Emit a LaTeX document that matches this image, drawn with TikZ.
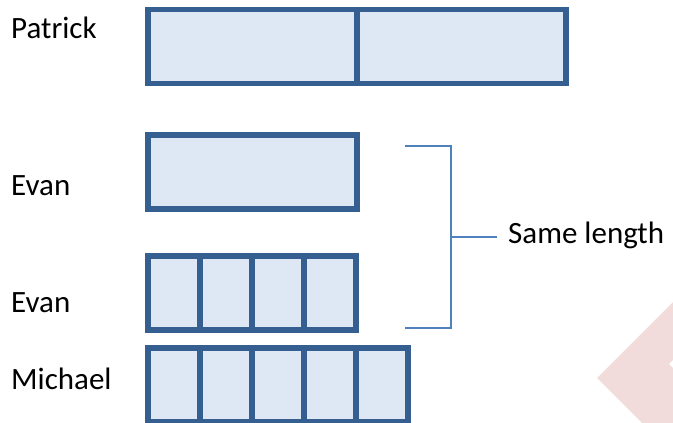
\documentclass[tikz,border=0pt]{standalone}
\usepackage{fontspec}
\setmainfont{Carlito}
\usetikzlibrary{positioning}
\definecolor{barLine}{HTML}{365F91}
\definecolor{barFill}{HTML}{DEE8F4}
\definecolor{braceLine}{HTML}{4F81BD}
\definecolor{markPink}{HTML}{F2DCDB}

\begin{document}
\begin{tikzpicture}[x=1pt,y=-1pt]
    \tikzstyle{Cell} = [
            draw=barLine,
            fill=barFill,
            line width=5.5pt,
            rectangle,
            inner sep=0pt,
            outer sep=0pt,
            minimum height=74pt,
            minimum width=52pt
    ];
    \tikzstyle{HalfCell} = [
            Cell,
            minimum width=209pt
    ];
    \tikzstyle{Name} = [
            anchor=base west,
            inner sep=0pt,
            font={\fontsize{31}{37}\selectfont}
    ];
    \tikzstyle{Brace} = [
            draw=braceLine,
            line width=2pt
    ];

    \useasboundingbox (0,0) rectangle (673,423);

    % corner mark
    \fill[markPink] (597,378) -- (673,302) -- (673,423) -- (642,423) -- cycle;
    \fill[white] (669,364) -- (673,360) -- (673,368) -- cycle;

    % names
    \node[Name, name=Patrick] at (11,38)  {Patrick};
    \node[Name, name=EvanA]   at (11,195) {Evan};
    \node[Name, name=EvanB]   at (11,312) {Evan};
    \node[Name, name=Michael] at (11,389) {Michael};

    % Patrick: two halves
    \node[HalfCell, name=P1] at (252.5,46.5) {};
    \node[HalfCell, name=P2, right=0pt of P1] {};

    % Evan: one half
    \node[HalfCell, name=E0] at (252.5,172) {};

    % Evan: four quarters
    \node[Cell, name=E1] at (174,293) {};
    \node[Cell, name=E2, right=0pt of E1] {};
    \node[Cell, name=E3, right=0pt of E2] {};
    \node[Cell, name=E4, right=0pt of E3] {};

    % Michael: five quarters
    \node[Cell, name=M1] at (174,385) {};
    \node[Cell, name=M2, right=0pt of M1] {};
    \node[Cell, name=M3, right=0pt of M2] {};
    \node[Cell, name=M4, right=0pt of M3] {};
    \node[Cell, name=M5, right=0pt of M4] {};

    % bracket
    \coordinate (BraceTop) at (405,146);
    \coordinate (BraceBot) at (405,328);
    \node[Name, name=Same] at (508,243) {Same length};
    \draw[Brace] (BraceTop) -| (451,328) -- (BraceBot);
    \draw[Brace] (451,237) -- (497,237);
\end{tikzpicture}
\end{document}
